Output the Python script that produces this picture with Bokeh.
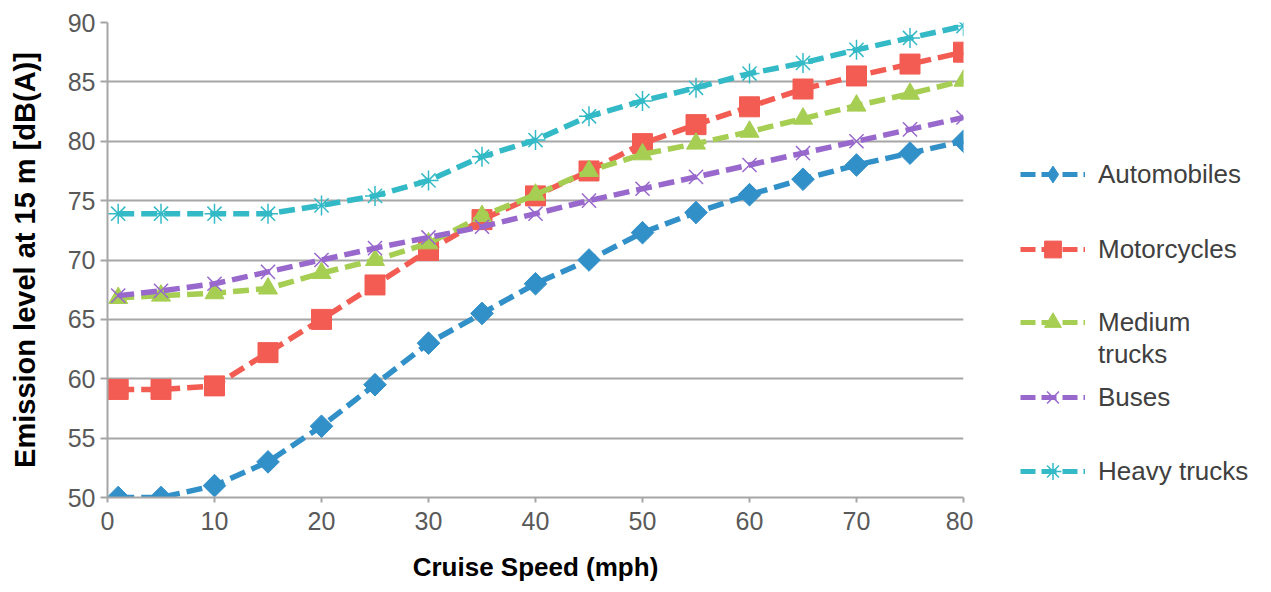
from bokeh.plotting import figure
from bokeh.layouts import row
from bokeh.models import Range1d, Legend, LegendItem, FixedTicker
from bokeh.embed import file_html
from bokeh.resources import INLINE

speed = [1, 5, 10, 15, 20, 25, 30, 35, 40, 45, 50, 55, 60, 65, 70, 75, 80]
automobiles = [50, 50, 51, 53, 56, 59.5, 63, 65.5, 68, 70, 72.3, 74, 75.5, 76.8, 78, 79, 80]
motorcycles = [59.1, 59.1, 59.4, 62.2, 65, 67.9, 70.8, 73.4, 75.4, 77.5, 79.8, 81.4, 82.9, 84.4, 85.5, 86.5, 87.5]
medium_trucks = [66.8, 67, 67.2, 67.6, 68.9, 70, 71.4, 73.7, 75.5, 77.5, 78.9, 79.8, 80.8, 81.9, 83, 84, 85.1]
buses = [67, 67.4, 68, 69, 70, 71, 71.9, 72.8, 73.9, 75, 76, 77, 78, 79, 80, 81, 82]
heavy_trucks = [73.9, 73.9, 73.9, 73.9, 74.6, 75.4, 76.7, 78.7, 80.1, 82.1, 83.4, 84.5, 85.7, 86.6, 87.7, 88.7, 89.7]

x_ticks = [0, 10, 20, 30, 40, 50, 60, 70, 80]
y_ticks = [50, 55, 60, 65, 70, 75, 80, 85, 90]

legend_lines = [["Automobiles"], ["Motorcycles"], ["Medium", "trucks"], ["Buses"], ["Heavy trucks"]]
values = [automobiles, motorcycles, medium_trucks, buses, heavy_trucks]
colors = ["#3290c8", "#f25c52", "#a6ce52", "#9868cc", "#33bac6"]
markers = ["square", "square", "triangle", "x", "asterisk"]
legend_markers = ["diamond", "square", "triangle", "x", "asterisk"]
angles = [0.785398, 0, 0, 0, 0]
sizes = [16, 20, 19, 20, 20]

FONT = "Liberation Sans"

p = figure(output_backend="svg", toolbar_location=None,
           x_range=Range1d(0, 80), y_range=Range1d(50, 90),
           frame_width=856, frame_height=475,
           min_border_left=107, min_border_top=22, min_border_right=10, min_border_bottom=4)
p.outline_line_color = None
p.xgrid.grid_line_color = None
p.ygrid.grid_line_color = "#a6a6a6"
p.ygrid.grid_line_width = 2

for ax in (p.xaxis, p.yaxis):
    ax.axis_line_color = "#a6a6a6"
    ax.axis_line_width = 2
    ax.major_tick_line_color = "#a6a6a6"
    ax.major_tick_line_width = 2
    ax.major_tick_in = 0
    ax.minor_tick_line_color = None
    ax.major_label_text_font = FONT
    ax.major_label_text_font_size = "25px"
    ax.major_label_text_color = "#595959"
    ax.axis_label_text_font = FONT
    ax.axis_label_text_font_style = "bold"
    ax.axis_label_text_color = "black"

p.xaxis.ticker = FixedTicker(ticks=x_ticks)
p.yaxis.ticker = FixedTicker(ticks=y_ticks)
p.xaxis.axis_label = "Cruise Speed (mph)"
p.yaxis.axis_label = "Emission level at 15 m [dB(A)]"
p.xaxis.axis_label_text_font_size = "26px"
p.yaxis.axis_label_text_font_size = "29px"
p.xaxis.major_tick_out = 5
p.yaxis.major_tick_out = 7
p.xaxis.major_label_standoff = 9
p.xaxis.axis_label_standoff = 19
p.yaxis.major_label_standoff = 5
p.yaxis.axis_label_standoff = 24

for vals, color, marker, size, ang in zip(values, colors, markers, sizes, angles):
    p.line(speed, vals, line_color=color, line_width=5.5, line_dash="16 7")
    p.scatter(speed, vals, marker=marker, size=size, angle=ang, fill_color=color,
              line_color=color, line_width=1.5 if marker in ("x", "asterisk") else 1)

# legend panel: an axis-free figure whose ranges keep its series out of view,
# so that only the legend entries (glyph + label) are seen
LH = 585
lf = figure(output_backend="svg", toolbar_location=None, width=290, height=LH,
            x_range=Range1d(-2, -1), y_range=Range1d(-2, -1),
            min_border=0, x_axis_type=None, y_axis_type=None)
lf.outline_line_color = None
lf.grid.visible = False

line_centers = [[174], [249], [322, 354], [397], [471]]
GH = 42
SHIFT = 87
for lines, centers, vals, color, marker in zip(legend_lines, line_centers, values, colors, legend_markers):
    ln = lf.line(speed, vals, line_color=color, line_width=5, line_dash="15 6")
    sc = lf.scatter(speed, vals, marker=marker, fill_color=color, line_color=color,
                    line_width=1.5 if marker in ("x", "asterisk") else 1)
    blank = lf.line(speed, vals, line_alpha=0)
    for i, (txt, cy) in enumerate(zip(lines, centers)):
        rends = [ln, sc] if i == 0 else [blank]
        lg = Legend(items=[LegendItem(label=txt, renderers=rends)],
                    location=(47, LH - cy - GH / 2 - SHIFT), background_fill_alpha=0,
                    border_line_color=None, glyph_width=65, glyph_height=GH,
                    label_standoff=13, label_height=GH, label_text_font=FONT,
                    label_text_font_size="26px", label_text_color="#404040",
                    padding=0, margin=0, spacing=0)
        lf.add_layout(lg)

layout = row(p, lf)
open("out.html", "w").write(file_html(layout, INLINE))
